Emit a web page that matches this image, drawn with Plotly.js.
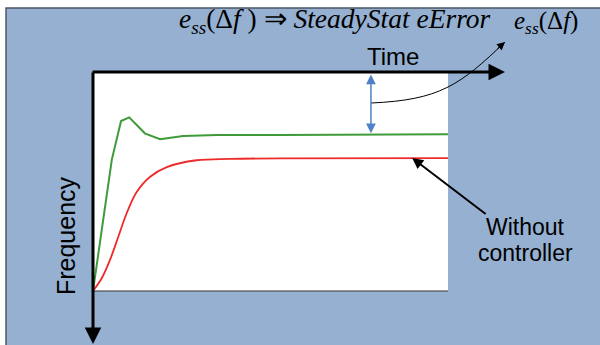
<!DOCTYPE html>
<html>
<head>
<meta charset="utf-8">
<script src="https://cdn.plot.ly/plotly-3.0.1.min.js"></script>
<style>html,body{margin:0;padding:0;background:#fff;}#chart{width:600px;height:345px;}</style>
</head>
<body>
<div id="chart"></div>
<script>
// Data (arbitrary units: time 0..10, frequency 0..1)
const timeWith = [0, 0.53, 0.79, 1.02, 1.46, 1.89, 2.54, 3.5, 5.27, 10];
const freqWith = [0, 0.60, 0.776, 0.793, 0.720, 0.693, 0.708, 0.712, 0.712, 0.716];
const timeWithout = [0, 0.245, 0.479, 0.713, 0.949, 1.23, 1.61, 2.08, 2.92, 3.86, 5.27, 10];
const freqWithout = [0, 0.058, 0.142, 0.248, 0.355, 0.452, 0.522, 0.566, 0.597, 0.603, 0.606, 0.607];
const steadyTime = 7.83;
const labelTop = '<i>e</i><sub><i>ss</i></sub>(Δ<i>f</i> ) ⇒ <i>SteadyStat eError</i>';
const labelSide = '<i>e</i><sub><i>ss</i></sub>(Δ<i>f</i>)';
const labelX = 'Time';
const labelY = 'Frequency';
const labelNote1 = 'Without';
const labelNote2 = 'controller';

const traces = [
  {x: timeWith, y: freqWith, mode: 'lines', line: {color: '#3f9a3a', width: 2}, hoverinfo: 'skip'},
  {x: timeWithout, y: freqWithout, mode: 'lines', line: {color: '#ee2a2a', width: 1.8, shape: 'spline', smoothing: 1}, hoverinfo: 'skip'}
];

const serif = 'Liberation Serif, Times New Roman, serif';
const sans = 'Liberation Sans, Arial, sans-serif';

function txt(x, y, text, family, size, extra) {
  return Object.assign({xref: 'paper', yref: 'paper', x: x, y: y, text: text, showarrow: false,
    xanchor: 'center', yanchor: 'middle', font: {family: family, size: size, color: '#000000'}}, extra || {});
}

const layout = {
  width: 600, height: 345,
  margin: {l: 93, r: 152, t: 72, b: 54, pad: 0},
  paper_bgcolor: '#ffffff',
  plot_bgcolor: '#ffffff',
  showlegend: false,
  xaxis: {range: [0, 10], showgrid: false, zeroline: false, showticklabels: false, showline: false, ticks: '', fixedrange: true},
  yaxis: {range: [0, 1], showgrid: false, zeroline: false, showticklabels: false, showline: false, ticks: '', fixedrange: true},
  shapes: [
    {type: 'rect', xref: 'paper', yref: 'paper', x0: -0.245, x1: 1.44, y0: -0.26, y1: 1.292,
     fillcolor: '#95b0d0', line: {color: '#4b5563', width: 1.5}, layer: 'below'},
    {type: 'rect', xref: 'paper', yref: 'paper', x0: 0, x1: 1, y0: 0, y1: 1,
     fillcolor: '#ffffff', line: {width: 0}, layer: 'below'},
    {type: 'line', xref: 'paper', yref: 'paper', x0: 0, x1: 1, y0: 0, y1: 0,
     line: {color: '#333333', width: 1.2}},
    {type: 'path', xref: 'paper', yref: 'paper',
     path: 'M 0.7831,0.8584 C 0.9775,0.8721 1.0338,0.9406 1.1606,1.137',
     line: {color: '#000000', width: 1}}
  ],
  annotations: [
    // axis arrows
    {xref: 'paper', yref: 'paper', x: 1.1606, y: 1, ax: -414, ay: 0, text: '', showarrow: true,
     arrowhead: 2, arrowsize: 1.1, arrowwidth: 3, arrowcolor: '#000000'},
    {xref: 'paper', yref: 'paper', x: 0, y: -0.2466, ax: 0, ay: -274, text: '', showarrow: true,
     arrowhead: 2, arrowsize: 1.1, arrowwidth: 3, arrowcolor: '#000000'},
    // steady-state error dimension arrow
    {xref: 'x', yref: 'y', x: steadyTime, y: freqWith[freqWith.length - 1] + 0.004, axref: 'x', ayref: 'y',
     ax: steadyTime, ay: 0.995, text: '', showarrow: true, arrowside: 'end+start',
     arrowhead: 2, startarrowhead: 2, arrowsize: 1.3, startarrowsize: 1.3, arrowwidth: 1.5, arrowcolor: '#5080c8'},
    // head of curved pointer
    {xref: 'paper', yref: 'paper', x: 1.1606, y: 1.137, ax: -9, ay: 8, text: '', showarrow: true,
     arrowhead: 2, arrowsize: 1.6, arrowwidth: 1, arrowcolor: '#000000'},
    // "Without controller" pointer
    {xref: 'x', yref: 'y', x: 8.99, y: freqWithout[freqWithout.length - 1], ax: 75, ay: 57, text: '', showarrow: true,
     arrowhead: 2, arrowsize: 1.1, arrowwidth: 2, arrowcolor: '#000000'},
    // texts
    txt(0.845, 1.073, labelX, sans, 24),
    txt(-0.076, 0.251, labelY, sans, 25, {textangle: -90}),
    txt(1.217, 0.292, labelNote1, sans, 23),
    txt(1.217, 0.1735, labelNote2, sans, 23),
    txt(0.682, 1.233, labelTop, serif, 27.5),
    txt(1.276, 1.228, labelSide, serif, 25)
  ]
};

Plotly.newPlot('chart', traces, layout, {staticPlot: true, displayModeBar: false});
</script>
</body>
</html>
